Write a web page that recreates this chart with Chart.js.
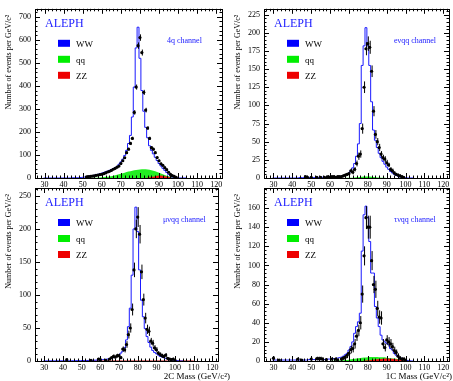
<!DOCTYPE html>
<html>
<head>
<meta charset="utf-8">
<script src="https://cdn.jsdelivr.net/npm/chart.js@4.4.0/dist/chart.umd.min.js"></script>
<style>
html, body { margin: 0; padding: 0; background: #fff; }
#wrap { position: relative; width: 453px; height: 381px; overflow: hidden; }
#wrap canvas { position: absolute; left: 0; top: 0; }
</style>
</head>
<body>
<div id="wrap"></div>
<script>
// 1 GeV bin centres for the WW histograms
const binMass = [30,31,32,33,34,35,36,37,38,39,
    40,41,42,43,44,45,46,47,48,49,50,51,52,53,54,55,56,57,58,59,
    60,61,62,63,64,65,66,67,68,69,70,71,72,73,74,75,76,77,78,79,
    80,81,82,83,84,85,86,87,88,89,90,91,92,93,94,95,96,97,98,99,
    100,101,102,103,104];

// grid for the smooth qq / ZZ backgrounds
const bkgMass = [50,52,54,56,58,60,62,64,66,68,70,72,74,76,78,80,
    82,84,86,88,90,92,94,96,98,100,102,104,106,108,110];

const xTicks = [30,40,50,60,70,80,90,100,110,120];

// ---- 4q channel ----
const ww4q = [0,0,0,0,0,0,0,0,0,0,
    0,0,0,0,0,0,1,1,1,1, 2,3,4,5,7,8,10,12,14,16,
    18,21,24,27,30,33,37,41,45,50, 60,70,82,98,120,150,185,265,395,565,
    655,520,380,290,220,175,140,120,105,90, 76,63,52,42,33,24,16,9,4,2,
    1,0,0,0,0];
const qq4q = [0,0,0.5,1,2,3.5,5,7,10,14,18,23,28,32,35,37,
    38,37,34,29,23,16,10,5,2,0.5,0,0,0,0,0];
const zz4q = [0,0,0,0,0,0,0,0,0,0,0,0,0,0,0,0,
    0.5,1.5,4,8,11,10,6,2,0.5,0,0,0,0,0,0];
const dMass4q = [52,53,54,55,56,57,58,59,60,61,62,63,64,65,66,67,68,69,
    70,71,72,73,74,75,76,77,78,79,80,81,82,83,84,85,86,87,88,89,
    90,91,92,93,94,95,96,97,98,99];
const data4q = [5,6,7,8,9,11,13,15,16,19,22,26,29,33,38,42,47,52,
    63,75,88,110,125,150,172,285,395,575,610,545,372,295,217,172,132,125,110,89,
    75,62,55,45,36,25,16,10,7,3];
const err4q = [2,2,2,2,2,2,3,3,3,3,3,3,3,4,4,4,4,4,
    5,5,5,6,6,7,7,10,11,14,14,13,11,10,8,7,7,6,6,5,
    5,5,4,4,4,3,2,2,2,1];
const yTicks4q = [0,100,200,300,400,500,600,700];

// ---- e nu qq channel ----
const wwEv = [0,0,0,0,0,0,0,0,0,0,
    0,0,0,0,0,0.5,0.5,0.5,0.5,0.5, 0.5,0.5,0.5,0.5,0.5,0.5,1,1,1,1,
    1,1,1,1.5,1.5,2,2,2.5,3,4, 5,7,10,14,20,30,47,75,155,182,
    207,182,155,105,66,52,42,34,28,23, 19,15,12,9,7,5,3.5,2.5,1.5,1,
    0.5,0.3,0,0,0];
const qqEv = [0,0,0,0,0,0,0,0,0,0,0.2,0.5,1,1.5,2,2.2,
    1.8,1.2,0.6,0.2,0,0,0,0,0,0,0,0,0,0,0];
const zzEv = [0,0,0,0,0,0,0,0,0,0,0,0,0,0,0,0,
    0,0,0,0,0,0,0,0,0,0,0,0,0,0,0];
const dMassEv = [47,48,50,53,55,57,59,60,61,62,63,64,65,66,67,68,69,70,71,72,
    73,74,75,76,77,78,79,80,81,82,83,84,85,86,87,88,89,90,91,92,
    93,94,95,96,97,98,99];
const dataEv = [2,1,1,1,1,1,2,1,2,2,1,2,2,2,3,4,5,6,10,8,
    12,20,30,33,68,125,178,185,180,147,92,60,50,42,33,28,26,21,18,12,
    10,7,5,4,3,2,1];
const errEv = [1,1,1,1,1,1,1,1,1,1,1,1,1,1,2,2,2,2,3,3,
    3,4,5,5,7,8,9,10,9,8,7,6,5,5,4,4,4,4,3,3,
    3,2,2,2,2,1,1];
const yTicksEv = [0,25,50,75,100,125,150,175,200,225];

// ---- mu nu qq channel ----
const wwMu = [0.2,0.2,0.2,0.2,0.2,0.2,0.2,0.2,0.2,0.2,
    0.3,0.3,0.3,0.3,0.3,0.4,0.4,0.4,0.5,0.5, 0.5,0.6,0.6,0.7,0.8,0.9,1,1,1.2,1.4,
    1.6,1.8,2,2.3,2.7,3,3.5,4.2,5,6, 7,9,12,15,20,32,52,80,130,200,
    233,196,138,92,67,49,37,28,21,16, 13,11,9,7,6,5,4,3,2.5,2,
    1.5,1,0.5,0.3,0];
const qqMu = [0,0,0,0,0,0,0,0,0,0,0,0,0,0,0,0,
    0,0,0,0,0,0,0,0,0,0,0,0,0,0,0];
const zzMu = [0,0,0,0,0,0,0,0,0,0,0,0,0,0,0,0,
    0,0,0,0,0,0,0,0,0,0,0,0,0,0,0];
const dMassMu = [42,55,59,60,63,65,66,67,68,69,70,71,72,73,74,75,76,77,78,79,
    80,81,82,83,84,85,86,87,88,89,90,91,92,93,94,95,96,97,98,99,100];
const dataMu = [2,1,3,2,1,3,5,7,6,8,8,5,18,17,25,40,50,78,138,200,
    218,192,135,93,65,48,45,30,27,20,17,12,10,8,7,9,4,3,2,3,1];
const errMu = [1,1,2,1,1,2,2,3,2,3,3,2,4,4,5,6,7,9,11,14,
    15,14,11,9,8,7,7,5,5,4,4,3,3,3,3,3,2,2,1,2,1];
const yTicksMu = [0,50,100,150,200,250];

// ---- tau nu qq channel ----
const wwTau = [1,1,1,1,1,1,1,1,1,1,
    1,1,1,1,1,1,1,1,1,1, 1.5,1.5,1.5,1.5,1.5,1.5,1.5,1.5,1.5,1.5,
    2,2,2,2.5,2.5,3,3.5,4,5,6.5, 8,11.5,15,20,29,36,41,50,115,153,
    162,150,125,92,92,57,45,36,27,22, 20,18.5,17,13,11.5,8,6,4.5,3.5,2.8,
    1.7,1,0.6,0.3,0];
const qqTau = [0,0,0,0,0,0,0.2,0.4,0.7,1,1.4,2,2.6,3.2,3.7,4,
    4.2,4.2,4,3.8,3.5,3,2.6,2,1.3,0.7,0.3,0,0,0,0];
const zzTau = [0,0,0,0,0,0,0,0,0,0,0,0,0,0,0.3,0.7,
    1.1,1.5,2,2.3,2.5,2.4,2.1,1.6,1,0.5,0.2,0,0,0,0];
const dMassTau = [30,33,43,45,50,53,54,55,56,58,61,63,64,66,67,68,69,70,71,72,
    73,74,75,76,77,78,79,80,81,82,83,84,85,86,87,88,89,90,91,92,
    93,94,95,96,97,98,99,100];
const dataTau = [3,1,2,1,2,2.5,2.5,2.5,2,1.5,2,2,1,2,3,4,6,8,12,13,
    18,26,32,40,70,110,150,140,140,105,80,75,55,46,45,18,14,22,20,18,
    15,11,9,5,3,2,2,1];
const errTau = [2,1,2,1,2,2,2,2,2,1,2,2,1,2,2,2,3,3,4,4,
    5,5,6,7,9,10,12,12,12,10,9,9,8,7,7,5,4,5,5,5,
    4,4,3,3,2,2,2,1];
const yTicksTau = [0,20,40,60,80,100,120,140,160];

const legendNames = ["WW", "qq", "ZZ"];
const legendColors = ["#0000ff", "#00ee00", "#ee0000"];

const W = 453, H = 381;
const SERIF = "'Liberation Serif', 'DejaVu Serif', serif";
const BLUE = "#1a1aff";

const panels = [
    { area: [35, 5, 222, 178], yMax: 735, yMinor: 20, yTicks: yTicks4q,
      ww: ww4q, qq: qq4q, zz: zz4q, dx: dMass4q, dy: data4q, de: err4q,
      channel: "4q channel", xTitle: null, zzEdge: 0 },
    { area: [264, 5, 450, 178], yMax: 233, yMinor: 5, yTicks: yTicksEv,
      ww: wwEv, qq: qqEv, zz: zzEv, dx: dMassEv, dy: dataEv, de: errEv,
      channel: "e\u03BDqq channel", xTitle: null, zzEdge: 0 },
    { area: [35, 188, 218, 361], yMax: 262, yMinor: 10, yTicks: yTicksMu,
      ww: wwMu, qq: qqMu, zz: zzMu, dx: dMassMu, dy: dataMu, de: errMu,
      channel: "\u03BC\u03BDqq channel", xTitle: "2C Mass (GeV/c\u00B2)", zzEdge: 1 },
    { area: [264, 188, 449, 361], yMax: 181, yMinor: 4, yTicks: yTicksTau,
      ww: wwTau, qq: qqTau, zz: zzTau, dx: dMassTau, dy: dataTau, de: errTau,
      channel: "\u03C4\u03BDqq channel", xTitle: "1C Mass (GeV/c\u00B2)", zzEdge: 0 }
];

const Y_AXIS_W = 30;
const X_AXIS_H = 12;

function histPoints(vals) {
    const pts = binMass.map((m, i) => ({ x: m - 0.5, y: vals[i] }));
    pts.push({ x: binMass[binMass.length - 1] + 0.5, y: vals[vals.length - 1] });
    return pts;
}

const decorations = {
    id: "decorations",
    afterDatasetsDraw(chart) {
        const p = chart.options.plugins.decorations.panel;
        const ctx = chart.ctx;
        const xs = chart.scales.x, ys = chart.scales.y;
        ctx.save();
        ctx.strokeStyle = "#000";
        ctx.lineWidth = 1;
        ctx.beginPath();
        p.dx.forEach((m, i) => {
            const px = xs.getPixelForValue(m);
            const y1 = ys.getPixelForValue(Math.max(0, p.dy[i] - p.de[i]));
            const y2 = ys.getPixelForValue(p.dy[i] + p.de[i]);
            ctx.moveTo(px + 0.5, y1);
            ctx.lineTo(px + 0.5, y2);
            const py = Math.round(ys.getPixelForValue(p.dy[i])) + 0.5;
            ctx.moveTo(xs.getPixelForValue(m - 0.5), py);
            ctx.lineTo(xs.getPixelForValue(m + 0.5), py);
        });
        ctx.stroke();
        ctx.restore();
    },
    afterDraw(chart) {
        const p = chart.options.plugins.decorations.panel;
        const ctx = chart.ctx;
        const a = chart.chartArea;
        const xs = chart.scales.x, ys = chart.scales.y;
        ctx.save();
        // frame
        ctx.strokeStyle = "#000";
        ctx.lineWidth = 1;
        ctx.strokeRect(Math.round(a.left) + 0.5, Math.round(a.top) + 0.5,
            Math.round(a.right - a.left), Math.round(a.bottom - a.top));
        // inward ticks on all four sides
        ctx.beginPath();
        for (let v = 26; v <= 122; v += 2) {
            const px = Math.round(xs.getPixelForValue(v)) + 0.5;
            const len = (v % 10 === 0) ? 5 : 2.5;
            ctx.moveTo(px, a.bottom); ctx.lineTo(px, a.bottom - len);
            ctx.moveTo(px, a.top); ctx.lineTo(px, a.top + len);
        }
        for (let v = 0; v <= p.yMax; v += p.yMinor) {
            const py = Math.round(ys.getPixelForValue(v)) + 0.5;
            const major = p.yTicks.indexOf(v) >= 0;
            const len = major ? 5 : 2.5;
            ctx.moveTo(a.left, py); ctx.lineTo(a.left + len, py);
            ctx.moveTo(a.right, py); ctx.lineTo(a.right - len, py);
        }
        ctx.stroke();

        // ALEPH label
        ctx.fillStyle = BLUE;
        ctx.font = "12px " + SERIF;
        ctx.textAlign = "left";
        ctx.textBaseline = "alphabetic";
        ctx.fillText("ALEPH", a.left + 10, a.top + 18);

        // channel label
        ctx.font = "8px " + SERIF;
        ctx.fillText(p.channel, a.right - 55, a.top + 34);

        // legend
        legendNames.forEach((name, i) => {
            const bx = a.left + 23, by = a.top + 31 + i * 16;
            ctx.fillStyle = legendColors[i];
            ctx.fillRect(bx, by, 12, 7);
            ctx.fillStyle = "#000";
            ctx.font = "9px " + SERIF;
            ctx.fillText(name, bx + 18, by + 7);
        });

        // y title
        ctx.save();
        ctx.translate(a.left - 26, a.top + 6);
        ctx.rotate(-Math.PI / 2);
        ctx.fillStyle = "#000";
        ctx.font = "8px " + SERIF;
        ctx.textAlign = "right";
        ctx.textBaseline = "middle";
        ctx.fillText("Number of events per GeV/c\u00B2", 0, 0);
        ctx.restore();

        // x title
        if (p.xTitle) {
            ctx.fillStyle = "#000";
            ctx.font = "9px " + SERIF;
            ctx.textAlign = "right";
            ctx.textBaseline = "alphabetic";
            ctx.fillText(p.xTitle, Math.min(a.right + 12, W - 1), H - 2);
        }
        ctx.restore();
    }
};

const wrap = document.getElementById("wrap");

panels.forEach(function(p) {
    const cv = document.createElement("canvas");
    cv.width = W; cv.height = H;
    cv.style.width = W + "px"; cv.style.height = H + "px";
    wrap.appendChild(cv);

    const [l, t, r, b] = p.area;

    new Chart(cv.getContext("2d"), {
        type: "line",
        data: {
            datasets: [
                {
                    label: "data",
                    type: "scatter",
                    data: p.dx.map((m, i) => ({ x: m, y: p.dy[i] })),
                    pointRadius: 1.6,
                    pointBackgroundColor: "#000",
                    pointBorderWidth: 0,
                    showLine: false,
                    order: 0
                },
                {
                    label: "WW",
                    data: histPoints(p.ww),
                    stepped: "after",
                    borderColor: "#1a1aff",
                    borderWidth: 1,
                    pointRadius: 0,
                    fill: false,
                    order: 1
                },
                {
                    label: "ZZ",
                    data: bkgMass.map((m, i) => ({ x: m, y: p.zz[i] })),
                    borderColor: "#b00000",
                    borderWidth: p.zzEdge,
                    backgroundColor: "#ee1111",
                    fill: "origin",
                    pointRadius: 0,
                    cubicInterpolationMode: "monotone",
                    order: 2
                },
                {
                    label: "qq",
                    data: bkgMass.map((m, i) => ({ x: m, y: p.qq[i] })),
                    borderWidth: 0,
                    backgroundColor: "#22ee22",
                    fill: "origin",
                    pointRadius: 0,
                    cubicInterpolationMode: "monotone",
                    order: 3
                }
            ]
        },
        options: {
            responsive: false,
            animation: false,
            devicePixelRatio: 1,
            layout: {
                padding: { left: l - Y_AXIS_W, top: t, right: W - r, bottom: H - b - X_AXIS_H }
            },
            scales: {
                x: {
                    type: "linear",
                    min: 25, max: 123,
                    grid: { display: false, drawTicks: false },
                    border: { display: false },
                    afterFit: function(s) { s.height = X_AXIS_H; },
                    afterBuildTicks: function(s) { s.ticks = xTicks.map(v => ({ value: v })); },
                    ticks: {
                        font: { family: SERIF, size: 8 },
                        color: "#000",
                        padding: 2,
                        maxRotation: 0,
                        autoSkip: false
                    }
                },
                y: {
                    type: "linear",
                    min: 0, max: p.yMax,
                    grid: { display: false, drawTicks: false },
                    border: { display: false },
                    afterFit: function(s) { s.width = Y_AXIS_W; },
                    afterBuildTicks: function(s) { s.ticks = p.yTicks.map(v => ({ value: v })); },
                    ticks: {
                        font: { family: SERIF, size: 8 },
                        color: "#000",
                        padding: 4,
                        autoSkip: false
                    }
                }
            },
            plugins: {
                legend: { display: false },
                tooltip: { enabled: false },
                decorations: { panel: p }
            }
        },
        plugins: [decorations]
    });
});
</script>
</body>
</html>
